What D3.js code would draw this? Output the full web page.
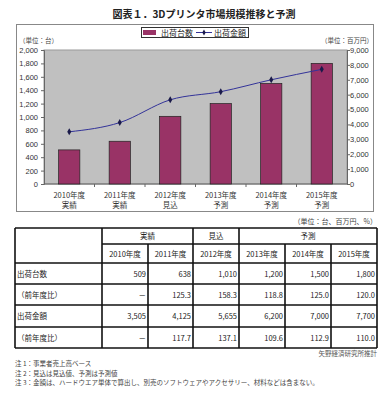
<!DOCTYPE html>
<html>
<head>
<meta charset="utf-8">
<script src="https://cdn.jsdelivr.net/npm/d3@7"></script>
<style>
  body { margin: 0; background: #fff; }
  svg { font-family: "Noto Sans CJK JP", "Noto Sans", sans-serif; }
</style>
</head>
<body>
<div id="chart"></div>
<script>
// data
var years = ["2010年度", "2011年度", "2012年度", "2013年度", "2014年度", "2015年度"];
var stage = ["実績", "実績", "見込", "予測", "予測", "予測"];
var units = [509, 638, 1010, 1200, 1500, 1800];
var unitsYoY = [null, 125.3, 158.3, 118.8, 125.0, 120.0];
var amount = [3505, 4125, 5655, 6200, 7000, 7700];
var amountYoY = [null, 117.7, 137.1, 109.6, 112.9, 110.0];
var leftTicks = d3.range(0, 2001, 200);
var rightTicks = d3.range(0, 9001, 1000);
var notes = [
  "注 1：事業者売上高ベース",
  "注 2：見込は見込値、予測は予測値",
  "注 3：金額は、ハードウエア単体で算出し、別売のソフトウェアやアクセサリー、材料などは含まない。"
];

var svg = d3.select("#chart").append("svg").attr("width", 392).attr("height", 400);

var barColor = "#993366", lineColor = "#333399";

svg.append("text").attr("x", 204).attr("y", 18).attr("text-anchor", "middle")
  .attr("font-size", 10).attr("font-weight", "bold").attr("fill", "#222")
  .text("図表１．3Dプリンタ市場規模推移と予測");

// chart frame
svg.append("rect").attr("x", 16.5).attr("y", 24.5).attr("width", 357).attr("height", 187)
  .attr("fill", "#fff").attr("stroke", "#888");

var plot = { left: 44, right: 347, top: 50, bottom: 184 };

var x = d3.scaleBand().domain(years).range([plot.left, plot.right]).paddingInner(0.58).paddingOuter(0.29);
var xs = d3.scaleBand().domain(years).range([plot.left, plot.right]);
var yL = d3.scaleLinear().domain([0, 2000]).range([plot.bottom, plot.top]);
var yR = d3.scaleLinear().domain([0, 9000]).range([plot.bottom, plot.top]);

svg.append("rect").attr("x", plot.left).attr("y", plot.top)
  .attr("width", plot.right - plot.left).attr("height", plot.bottom - plot.top)
  .attr("fill", "#c0c0c0").attr("stroke", "#999");

var fmt = d3.format(",");

var gl = svg.append("g").attr("transform", "translate(" + plot.left + ",0)")
  .call(d3.axisLeft(yL).tickValues(leftTicks).tickSize(3).tickFormat(fmt));
var gr = svg.append("g").attr("transform", "translate(" + plot.right + ",0)")
  .call(d3.axisRight(yR).tickValues(rightTicks).tickSize(3).tickFormat(fmt));
[gl, gr].forEach(function(g) {
  g.select(".domain").attr("stroke", "#666");
  g.selectAll(".tick line").attr("stroke", "#666");
  g.selectAll("text").attr("font-size", 7.5).attr("fill", "#333")
    .attr("font-family", "Liberation Sans, Arial, sans-serif");
});
gl.selectAll("text").attr("x", -6);
gr.selectAll("text").attr("x", 3);

// x axis
svg.append("line").attr("x1", plot.left).attr("x2", plot.right)
  .attr("y1", plot.bottom).attr("y2", plot.bottom).attr("stroke", "#666");
svg.selectAll(".xtick").data(years.slice(1)).enter().append("line")
  .attr("x1", function(d) { return xs(d); }).attr("x2", function(d) { return xs(d); })
  .attr("y1", plot.bottom).attr("y2", plot.bottom + 3).attr("stroke", "#666");

var xl = svg.selectAll(".xl").data(years).enter().append("text")
  .attr("text-anchor", "middle").attr("font-size", 7.5).attr("fill", "#333")
  .attr("x", function(d) { return xs(d) + xs.bandwidth() / 2; });
xl.append("tspan").attr("y", 198).text(function(d) { return d; });
xl.append("tspan").attr("dy", 9.5).attr("x", function(d) { return xs(d) + xs.bandwidth() / 2; })
  .text(function(d, i) { return stage[i]; });

// bars
svg.selectAll(".bar").data(units).enter().append("rect")
  .attr("x", function(d, i) { return x(years[i]); })
  .attr("width", x.bandwidth())
  .attr("y", function(d) { return yL(d); })
  .attr("height", function(d) { return plot.bottom - yL(d); })
  .attr("fill", barColor).attr("stroke", "#222").attr("stroke-width", 0.7);

// line
var line = d3.line().x(function(d, i) { return xs(years[i]) + xs.bandwidth() / 2; })
  .y(function(d) { return yR(d); }).curve(d3.curveMonotoneX);
svg.append("path").datum(amount).attr("d", line).attr("fill", "none")
  .attr("stroke", lineColor).attr("stroke-width", 1);
svg.selectAll(".pt").data(amount).enter().append("path")
  .attr("d", d3.symbol().type(d3.symbolDiamond).size(14))
  .attr("transform", function(d, i) { return "translate(" + (xs(years[i]) + xs.bandwidth() / 2) + "," + yR(d) + ")"; })
  .attr("fill", "#1a1a4a");

// unit labels
svg.append("text").attr("x", 19).attr("y", 43).attr("font-size", 6.5).attr("fill", "#444").text("（単位：台）");
svg.append("text").attr("x", 373).attr("y", 43).attr("text-anchor", "end").attr("font-size", 6.5).attr("fill", "#444").text("（単位：百万円）");

// legend
var lg = svg.append("g");
lg.append("rect").attr("x", 141.5).attr("y", 27.5).attr("width", 107).attr("height", 10)
  .attr("fill", "#fff").attr("stroke", "#333");
lg.append("rect").attr("x", 143).attr("y", 30).attr("width", 13).attr("height", 5).attr("fill", barColor);
lg.append("text").attr("x", 161).attr("y", 36).attr("font-size", 8).attr("fill", "#222").text("出荷台数");
lg.append("line").attr("x1", 196).attr("x2", 212).attr("y1", 32.5).attr("y2", 32.5).attr("stroke", lineColor);
lg.append("path").attr("d", d3.symbol().type(d3.symbolDiamond).size(10)).attr("transform", "translate(204,32.5)").attr("fill", "#1a1a4a");
lg.append("text").attr("x", 214).attr("y", 36).attr("font-size", 8).attr("fill", "#222").text("出荷金額");

// table
svg.append("text").attr("x", 377).attr("y", 224).attr("text-anchor", "end").attr("font-size", 7).attr("fill", "#444")
  .text("（単位：台、百万円、%）");

var colX = [15, 102, 148, 193, 239, 285, 331, 377];
var rowY = [228, 244, 263, 284, 305, 327, 348];
var t = svg.append("g").attr("stroke", "#111").attr("stroke-width", 1.6);

// horizontal lines
rowY.forEach(function(yy, i) {
  t.append("line").attr("x1", i == 1 ? colX[1] : colX[0]).attr("x2", colX[7]).attr("y1", yy).attr("y2", yy);
});
// vertical lines
colX.forEach(function(xx, i) {
  var y0 = (i == 2 || i == 5 || i == 6) ? rowY[1] : rowY[0];
  t.append("line").attr("x1", xx).attr("x2", xx).attr("y1", y0).attr("y2", rowY[6]);
});

var groups = [["実績", 1, 3], ["見込", 3, 4], ["予測", 4, 7]];
svg.selectAll(".grp").data(groups).enter().append("text")
  .attr("x", function(d) { return (colX[d[1]] + colX[d[2]]) / 2; }).attr("y", 239)
  .attr("text-anchor", "middle").attr("font-size", 7.5).attr("fill", "#222").text(function(d) { return d[0]; });
svg.selectAll(".yh").data(years).enter().append("text")
  .attr("x", function(d, i) { return (colX[i + 1] + colX[i + 2]) / 2; }).attr("y", 257)
  .attr("text-anchor", "middle").attr("font-size", 7.5).attr("fill", "#222").text(function(d) { return d; });

var rows = [
  ["出荷台数", units, fmt],
  ["（前年度比）", unitsYoY, d3.format(".1f")],
  ["出荷金額", amount, fmt],
  ["（前年度比）", amountYoY, d3.format(".1f")]
];
rows.forEach(function(r, ri) {
  var cy = (rowY[ri + 2] + rowY[ri + 3]) / 2 + 3;
  svg.append("text").attr("x", 17).attr("y", cy).attr("font-size", 7.5).attr("fill", "#222").text(r[0]);
  r[1].forEach(function(v, i) {
    svg.append("text").attr("x", colX[i + 2] - 2).attr("y", cy).attr("text-anchor", "end")
      .attr("font-size", 7.5).attr("fill", "#222").text(v == null ? "－" : r[2](v));
  });
});

svg.append("text").attr("x", 377).attr("y", 356).attr("text-anchor", "end").attr("font-size", 6.5).attr("fill", "#555")
  .text("矢野経済研究所推計");
svg.selectAll(".note").data(notes).enter().append("text")
  .attr("x", 15).attr("y", function(d, i) { return 366 + i * 9.5; })
  .attr("font-size", 6.5).attr("fill", "#444").text(function(d) { return d; });
</script>
</body>
</html>
